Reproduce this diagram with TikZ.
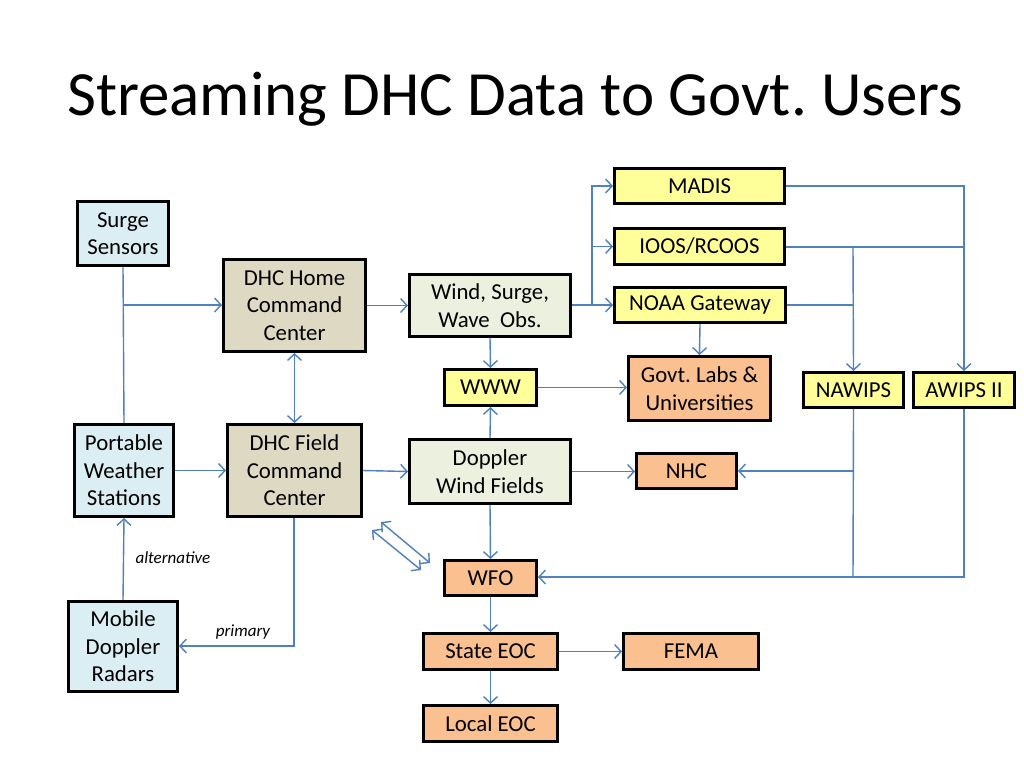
\documentclass[tikz,border=0pt]{standalone}
\usepackage{fontspec}
\setmainfont{Carlito}
\usetikzlibrary{arrows.meta}
\definecolor{conn}{RGB}{79,129,189}
\definecolor{cblue}{RGB}{219,238,244}
\definecolor{ctan}{RGB}{221,217,195}
\definecolor{cgrey}{RGB}{235,241,222}
\definecolor{cyel}{RGB}{255,255,153}
\definecolor{corg}{RGB}{250,192,144}
\tikzset{
  box/.style={draw=black, line width=3pt, inner sep=0pt, align=center,
    font=\fontsize{22.8}{27.5}\selectfont},
  conline/.style={draw=conn, line width=1.4pt},
  arr/.style={conline, -{Straight Barb[length=6.5pt,width=14pt,line width=1.4pt]}},
  darr/.style={conline, {Straight Barb[length=6.5pt,width=14pt,line width=1.4pt]}-{Straight Barb[length=6.5pt,width=14pt,line width=1.4pt]}},
  lbl/.style={font=\fontsize{17}{20}\selectfont\itshape},
}
\newcommand{\bx}[7]{\node[box, fill=#1, minimum width=#4pt-3pt, minimum height=#5pt-3pt] (#2) at (#3) {#6};}
\begin{document}
\frenchspacing
\begin{tikzpicture}[x=1pt,y=-1pt]
\useasboundingbox (0,0) rectangle (1024,768);
\fill[white] (0,0) rectangle (1024,768);
\node[anchor=base west, inner sep=0pt, font=\fontsize{63}{70}\selectfont] (title) at (67,115) {Streaming DHC Data to Govt. Users};

\bx{cblue}{surge}{123,233.5}{94}{67}{Surge\\Sensors}{}
\bx{ctan}{home}{294.5,305.5}{145}{95}{DHC Home\\Command\\Center}{}
\bx{cblue}{portable}{124,470.5}{102}{95}{Portable\\Weather\\Stations}{}
\bx{ctan}{field}{294.5,470.5}{137}{95}{DHC Field\\Command\\Center}{}
\bx{cblue}{mobile}{123,646.5}{112}{93}{Mobile\\Doppler\\Radars}{}
\bx{cgrey}{wind}{490,305.5}{164}{65}{Wind, Surge,\\Wave\ \ Obs.}{}
\bx{cyel}{www}{490.5,387.5}{95}{39}{WWW}{}
\bx{cgrey}{doppler}{490,471.5}{164}{67}{Doppler\\Wind Fields}{}
\bx{cyel}{madis}{699.5,186}{173}{38}{MADIS}{}
\bx{cyel}{ioos}{699.5,246.5}{173}{39}{IOOS/RCOOS}{}
\bx{cyel}{noaa}{700,305}{174}{38}{NOAA Gateway}{}
\bx{corg}{govt}{699.5,388.5}{145}{67}{Govt. Labs \&\\Universities}{}
\bx{corg}{nhc}{686.5,471}{103}{38}{NHC}{}
\bx{cyel}{nawips}{853.5,390}{103}{38}{NAWIPS}{}
\bx{cyel}{awips}{964,390}{104}{38}{AWIPS II}{}
\bx{corg}{wfo}{490.5,578}{95}{38}{WFO}{}
\bx{corg}{state}{490.5,651.5}{137}{39}{State EOC}{}
\bx{corg}{fema}{691,651.5}{138}{39}{FEMA}{}
\bx{corg}{local}{490.5,723.5}{137}{39}{Local EOC}{}

% coordinates
\coordinate (sj) at (123,305);
\coordinate (wj) at (592,305);
\coordinate (jm) at (592,186);
\coordinate (ji) at (592,246.5);
\coordinate (mr) at (964,186);
\coordinate (ir) at (964,247);
\coordinate (in) at (853,247);
\coordinate (nj) at (853,305);
\coordinate (nhj) at (853,471);
\coordinate (nb) at (853,577);
\coordinate (ab) at (964,577);
\coordinate (pc) at (294,646);
\coordinate (d1a) at (381,522);
\coordinate (d1b) at (430,563);
\coordinate (d2a) at (372,530);
\coordinate (d2b) at (421,570);

% left side
\draw[conline] (surge.south) -- (portable.north);
\draw[arr] (sj) -- (sj -| home.west);
\draw[arr] (portable.east |- field.west) -- (field.west);
\draw[darr] (home.south) -- (field.north);
\draw[arr] (mobile.north) -- (portable.south);
\draw[arr] (field.south -| pc) -- (pc) -- (pc -| mobile.east);
\node[lbl, anchor=west] (alt) at (132,558) {alternative};
\node[lbl] (prim) at (243,632) {primary};

% middle
\draw[arr] (home.east) -- (wind.west);
\draw[arr] (field.east) -- (doppler.west);
\draw[conline] (wind.east |- wj) -- (wj);
\draw[arr] (wj) -- (noaa.west |- wj);
\draw[arr] (wj) -- (jm) -- (madis.west);
\draw[arr] (ji) -- (ioos.west);
\draw[arr] (wind.south) -- (www.north);
\draw[arr] (doppler.north) -- (www.south);
\draw[arr] (www.east) -- (www.east -| govt.west);
\draw[arr] (noaa.south) -- (govt.north);
\draw[arr] (doppler.east) -- (doppler.east -| nhc.west);
\draw[arr] (doppler.south) -- (wfo.north);
\draw[arr] (wfo.south) -- (state.north);
\draw[arr] (state.east) -- (fema.west);
\draw[arr] (state.south) -- (local.north);

% right side
\draw[arr] (madis.east) -- (mr) -- (awips.north);
\draw[conline] (ioos.east |- ir) -- (ir);
\draw[arr] (in) -- (nawips.north);
\draw[conline] (noaa.east) -- (nj);
\draw[conline] (nawips.south) -- (nb);
\draw[arr] (awips.south) -- (ab) -- (ab -| wfo.east);
\draw[arr] (nhj) -- (nhc.east |- nhj);

% double arrows
\draw[darr] (d1a) -- (d1b);
\draw[darr] (d2a) -- (d2b);
\end{tikzpicture}
\end{document}
